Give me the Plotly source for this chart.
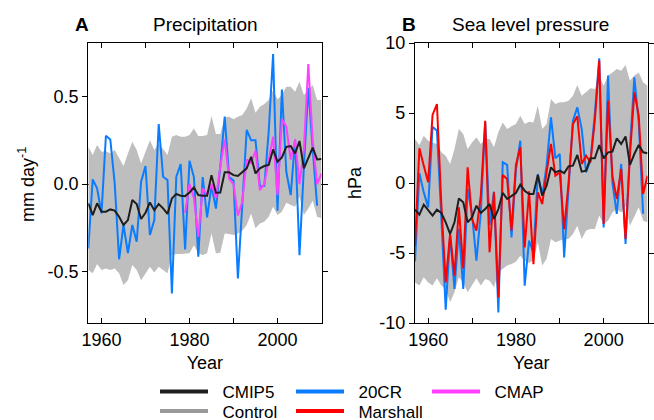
import plotly.graph_objects as go

years = list(range(1957, 2011))
cmap_years = list(range(1979, 2011))

# ---- Panel A: Precipitation (mm day-1) ----
pr_cmip5 = [-0.11, -0.177, -0.11, -0.158, -0.158, -0.145, -0.152, -0.187, -0.234, -0.206,
            -0.091, -0.114, -0.2, -0.164, -0.105, -0.149, -0.114, -0.139, -0.171, -0.082,
            -0.057, -0.067, -0.069, -0.048, -0.019, -0.063, -0.067, -0.067, 0.051, -0.05,
            -0.048, 0.067, 0.067, 0.051, 0.046, 0.067, 0.09, 0.156, 0.061, 0.09,
            0.103, 0.109, 0.198, 0.128, 0.152, 0.213, 0.217, 0.175, 0.246, 0.09,
            0.15, 0.208, 0.141, 0.143]
pr_upper = [0.213, 0.166, 0.223, 0.185, 0.189, 0.175, 0.194, 0.147, 0.103, 0.175,
            0.242, 0.194, 0.118, 0.185, 0.25, 0.194, 0.232, 0.2, 0.166, 0.27,
            0.28, 0.27, 0.27, 0.28, 0.318, 0.274, 0.274, 0.28, 0.389, 0.286,
            0.286, 0.381, 0.385, 0.37, 0.385, 0.394, 0.432, 0.49, 0.408, 0.442,
            0.457, 0.48, 0.537, 0.484, 0.509, 0.556, 0.556, 0.528, 0.585, 0.509,
            0.537, 0.566, 0.48, 0.48]
pr_lower = [-0.491, -0.51, -0.457, -0.491, -0.482, -0.491, -0.482, -0.51, -0.577, -0.549,
            -0.463, -0.491, -0.549, -0.51, -0.472, -0.505, -0.472, -0.491, -0.51, -0.406,
            -0.4, -0.4, -0.396, -0.396, -0.349, -0.396, -0.406, -0.396, -0.282, -0.396,
            -0.392, -0.282, -0.286, -0.291, -0.282, -0.267, -0.234, -0.168, -0.253, -0.225,
            -0.215, -0.187, -0.13, -0.177, -0.158, -0.107, -0.12, -0.13, -0.072, -0.177,
            -0.139, -0.095, -0.187, -0.196]
pr_20cr = [-0.368, 0.027, -0.025, -0.168, 0.276, 0.255, 0.004, -0.43, -0.234, -0.394,
           -0.234, -0.33, 0.013, 0.103, -0.291, -0.206, 0.343, 0.042, 0.023, -0.625,
           0.042, 0.114, -0.373, 0.133, 0.04, -0.415, 0.04, -0.19, -0.01, -0.14,
           0.1, 0.385, 0.04, 0.02, -0.54, -0.1, 0.31, 0.25, 0.25, -0.015,
           -0.01, 0.3, 0.743, -0.152, 0.54, 0.07, -0.063, 0.255, -0.406, 0.1,
           0.55, 0.2, -0.124, None]
pr_cmap = [-0.164, 0.0, -0.08, -0.3, -0.025, -0.06, 0.0, -0.08, 0.1, 0.255,
           0.03, 0.0, -0.18, -0.1, 0.14, 0.12, 0.19, -0.035, 0.0, 0.14,
           0.27, -0.063, 0.37, 0.33, 0.14, 0.255, 0.0, 0.2, 0.686, 0.25,
           0.0, 0.06]

# ---- Panel B: Sea level pressure (hPa) ----
slp_cmip5 = [-1.9, -2.26, -1.55, -1.98, -2.33, -1.9, -2.14, -2.81, -3.64, -2.81,
             -1.1, -1.38, -2.81, -2.45, -1.62, -2.14, -1.86, -1.5, -2.57, -1.86,
             -0.71, -1.14, -0.9, -0.71, -0.12, -0.55, -0.79, -0.79, 0.57, -0.9,
             -0.19, 1.12, 0.76, 0.88, 0.71, 1.19, 1.24, 2.0, 0.81, 0.88,
             1.76, 1.76, 2.71, 1.76, 2.19, 2.24, 3.19, 2.79, 3.33, 1.29,
             2.07, 2.71, 2.19, 2.12]
slp_upper = [3.14, 2.71, 3.38, 3.02, 2.9, 2.79, 2.2, 1.95, 1.36, 2.43,
             3.86, 3.5, 2.43, 2.9, 3.26, 2.79, 3.14, 3.14, 2.55, 3.62,
             4.33, 3.86, 4.05, 4.21, 4.81, 4.21, 4.38, 4.33, 5.52, 3.86,
             4.21, 6.0, 5.64, 5.76, 5.76, 5.88, 6.24, 7.0, 6.24, 6.48,
             6.76, 6.71, 7.67, 6.95, 7.67, 7.9, 8.14, 8.02, 8.43, 7.31,
             7.67, 7.9, 7.19, 6.95]
slp_lower = [-7.1, -7.33, -6.74, -7.1, -7.33, -6.81, -7.33, -7.57, -8.52, -7.81,
             -6.74, -7.1, -7.81, -7.33, -6.81, -7.33, -6.86, -6.98, -7.45, -6.38,
             -6.14, -5.9, -5.79, -5.62, -5.19, -5.55, -5.71, -5.5, -4.24, -5.9,
             -5.43, -4.0, -4.24, -4.12, -4.0, -4.0, -3.64, -3.05, -4.0, -3.4,
             -3.29, -3.29, -2.33, -2.93, -2.69, -2.1, -1.86, -2.1, -1.62, -3.05,
             -2.45, -1.74, -2.69, -2.81]
slp_20cr = [-5.6, 0.69, -0.67, -1.74, 4.02, 3.74, -2.5, -9.05, -3.76, -7.57,
            -3.29, -7.57, -0.43, -2.2, -5.55, -2.1, 4.33, -3.0, -0.62, -9.24,
            1.48, 1.29, -3.88, 0.9, 3.02, -7.33, -4.12, -5.0, 0.64, -0.9,
            1.24, 4.69, 1.76, 2.07, -5.31, -0.5, 4.45, 5.4, 3.86, 0.76,
            1.6, 5.0, 8.9, -3.17, 7.67, 0.0, -2.2, 1.36, -4.36, 2.5,
            7.55, 4.33, -2.2, None]
slp_marshall = [-4.5, 2.48, 1.24, 0.05, 4.86, 5.64, -1.5, -7.1, -3.64, -6.62,
                -1.74, -6.1, 1.12, -2.57, -3.4, -0.9, 4.45, -4.95, -0.67, -8.17,
                0.57, 0.29, -3.4, 1.29, 2.55, -4.6, -0.6, -5.8, -0.67, -1.5,
                0.76, 2.79, 0.52, 0.76, -3.29, 0.0, 4.21, 4.76, 1.36, 1.95,
                1.48, 4.5, 8.74, -2.93, 5.88, 0.5, -1.14, 1.0, -4.0, 2.0,
                6.48, 4.81, -0.79, 0.52]

x_ticks = [1960, 1970, 1980, 1990, 2000]
x_ticktext = ["1960", "", "1980", "", "2000"]
pr_ticks = [-0.5, 0.0, 0.5]
pr_ticktext = ["-0.5", "0.0", "0.5"]
slp_ticks = [-10, -5, 0, 5, 10]
slp_ticktext = ["-10", "-5", "0", "5", "10"]

BLACK = "#1e1e1e"
BLUE = "#0a7cff"
RED = "#ff0000"
MAGENTA = "#ff40ff"
BAND = "#bebebe"
CTRL = "#999999"
FONT = "Liberation Sans, Arial, Helvetica, sans-serif"

fig = go.Figure()

def add_band(lower, upper, xa, ya):
    fig.add_trace(go.Scatter(x=years, y=lower, mode="lines", line=dict(width=0, color=BAND),
                             showlegend=False, hoverinfo="skip", xaxis=xa, yaxis=ya))
    fig.add_trace(go.Scatter(x=years, y=upper, mode="lines", line=dict(width=0, color=BAND),
                             fill="tonexty", fillcolor=BAND, showlegend=False,
                             hoverinfo="skip", xaxis=xa, yaxis=ya))

def add_line(xs, ys, color, xa, ya):
    fig.add_trace(go.Scatter(x=xs, y=ys, mode="lines", line=dict(width=2, color=color),
                             showlegend=False, xaxis=xa, yaxis=ya))

# Panel A
add_band(pr_lower, pr_upper, "x", "y")
add_line(years, pr_20cr, BLUE, "x", "y")
add_line(cmap_years, pr_cmap, MAGENTA, "x", "y")
add_line(years, pr_cmip5, BLACK, "x", "y")
# Panel B
add_band(slp_lower, slp_upper, "x2", "y2")
add_line(years, slp_20cr, BLUE, "x2", "y2")
add_line(years, slp_marshall, RED, "x2", "y2")
add_line(years, slp_cmip5, BLACK, "x2", "y2")

# legend entries
NB = "\u00a0\u00a0"
legend_rows = [("CMIP5", BLACK, "legend"), ("20CR", BLUE, "legend"), ("CMAP", MAGENTA, "legend"),
               ("Control", CTRL, "legend2"), ("Marshall", RED, "legend2")]
for name, color, lg in legend_rows:
    fig.add_trace(go.Scatter(x=[None], y=[None], mode="lines", name=NB + name,
                             line=dict(width=4, color=color), legend=lg, showlegend=True))

W, H = 654, 420
TF = dict(size=18, color="black", family=FONT)
xa_common = dict(range=[1957, 2010], tickmode="array", tickvals=x_ticks, ticktext=x_ticktext,
                 ticks="inside", ticklen=5, tickwidth=1, tickcolor="black",
                 showline=True, linecolor="black", linewidth=1.3, mirror="ticks",
                 showgrid=False, zeroline=False, automargin=False,
                 tickfont=TF,
                 title=dict(text="Year", font=TF, standoff=7))
ya_common = dict(ticks="outside", ticklen=5, tickwidth=1, tickcolor="black",
                 showline=True, linecolor="black", linewidth=1.3, mirror="ticks",
                 showgrid=False, zeroline=True, zerolinecolor="black", zerolinewidth=1,
                 layer="above traces", automargin=False,
                 tickfont=TF)

ydom = [(H - 323) / H, (H - 43) / H]
leg_common = dict(orientation="h", x=155 / W, xanchor="left", yanchor="middle",
                  entrywidth=73, itemwidth=48, traceorder="normal",
                  font=dict(size=17, color="black", family=FONT),
                  bgcolor="rgba(0,0,0,0)", tracegroupgap=0)
TT = dict(size=19, family=FONT, color="black")
fig.update_layout(
    width=W, height=H,
    margin=dict(l=0, r=0, t=0, b=0, autoexpand=False),
    paper_bgcolor="white", plot_bgcolor="white",
    font=dict(family=FONT, color="black"),
    xaxis=dict(domain=[88.3 / W, 321.5 / W], anchor="y", **xa_common),
    yaxis=dict(domain=ydom, anchor="x", range=[-0.794, 0.806], tickmode="array",
               tickvals=pr_ticks, ticktext=pr_ticktext, **ya_common),
    xaxis2=dict(domain=[415 / W, 647.5 / W], anchor="y2", **xa_common),
    yaxis2=dict(domain=ydom, anchor="x2", range=[-10, 10], tickmode="array",
                tickvals=slp_ticks, ticktext=slp_ticktext, **ya_common),
    legend=dict(y=(H - 392) / H, **leg_common),
    legend2=dict(y=(H - 411.5) / H, **leg_common),
    annotations=[
        dict(text="<b>A</b>", x=82 / W, y=(H - 24) / H, xref="paper", yref="paper",
             xanchor="center", yanchor="middle", showarrow=False, font=TT),
        dict(text="Precipitation", x=205 / W, y=(H - 24) / H, xref="paper", yref="paper",
             xanchor="center", yanchor="middle", showarrow=False, font=TT),
        dict(text="<b>B</b>", x=409 / W, y=(H - 24) / H, xref="paper", yref="paper",
             xanchor="center", yanchor="middle", showarrow=False, font=TT),
        dict(text="Sea level pressure", x=530 / W, y=(H - 24) / H, xref="paper", yref="paper",
             xanchor="center", yanchor="middle", showarrow=False, font=TT),
        dict(text="mm day<sup>-1</sup>", x=26 / W, y=(H - 185) / H, xref="paper", yref="paper",
             xanchor="center", yanchor="middle", textangle=-90, showarrow=False, font=TF),
        dict(text="hPa", x=355 / W, y=(H - 183) / H, xref="paper", yref="paper",
             xanchor="center", yanchor="middle", textangle=-90, showarrow=False, font=TF),
    ],
)

fig.write_html("out.html", config={"displayModeBar": False},
               post_script="document.body.style.margin='0px';")
